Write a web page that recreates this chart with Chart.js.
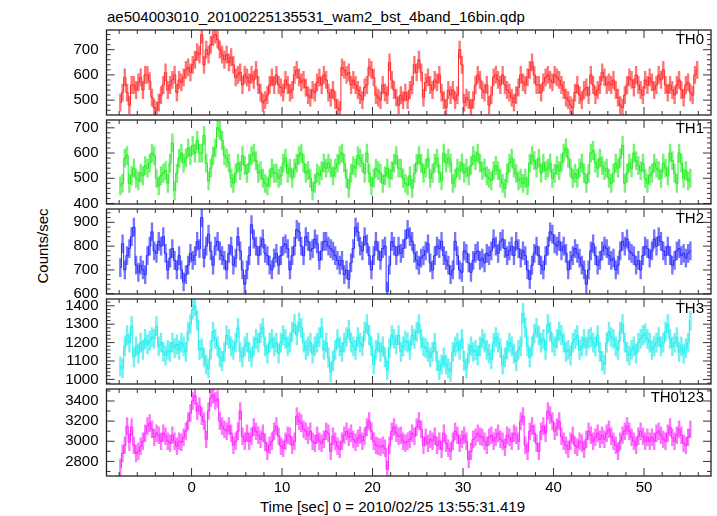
<!DOCTYPE html>
<html>
<head>
<meta charset="utf-8">
<script src="https://cdn.jsdelivr.net/npm/chart.js@4.4.1/dist/chart.umd.min.js"></script>
<style>
  body { margin: 0; background: #fff; }
  #wrap { position: relative; width: 717px; height: 516px; overflow: hidden;
          font-family: "Liberation Sans", Arial, sans-serif; font-size: 15px; color: #000; }
  canvas { position: absolute; left: 0; }
  .txt { position: absolute; line-height: 15px; white-space: nowrap; }
</style>
</head>
<body>
<div id="wrap">
  <div class="txt" style="left:107px; top:9px;">ae504003010_20100225135531_wam2_bst_4band_16bin.qdp</div>
  <div class="txt" style="left:42px; top:246px; transform: translate(-50%, -50%) rotate(-90deg);">Counts/sec</div>
  <div class="txt" style="left:260px; top:499px;">Time [sec] 0 = 2010/02/25 13:55:31.419</div>
</div>
<script>
// light curve values, 0.25 s bins starting at -7.875 s
const bandNames = ['TH0', 'TH1', 'TH2', 'TH3', 'TH0123'];

const th0 = [
  490, 530, 590, 530, 480, 560, 560, 540, 570, 590, 540, 600, 600, 575, 510, 470, 460, 490,
  520, 560, 610, 540, 560, 580, 600, 530, 580, 570, 590, 620, 630, 610, 640, 660, 690, 680,
  760, 640, 700, 680, 720, 750, 760, 740, 700, 680, 660, 680, 650, 670, 640, 590, 600, 610,
  560, 600, 590, 570, 600, 580, 620, 560, 530, 490, 500, 520, 560, 590, 560, 600, 560, 550,
  530, 580, 560, 530, 540, 600, 620, 590, 570, 580, 550, 520, 510, 540, 530, 570, 590, 560,
  600, 580, 530, 510, 540, 500, 470, 460, 630, 620, 600, 610, 560, 580, 560, 540, 520, 500,
  550, 560, 630, 620, 590, 520, 510, 500, 560, 530, 520, 650, 580, 540, 510, 480,
  520, 500, 530, 500, 540, 560, 640, 610, 660, 610, 510, 570, 590, 560, 540, 580, 570, 600,
  530, 500, 470, 540, 520, 540, 500, 520, 700, 640, 490, 510, 500, 470, 500, 560, 600, 580,
  540, 530, 560, 480, 520, 590, 600, 580, 560, 600, 560, 540, 530, 510, 490, 520, 550, 600,
  570, 560, 590, 620, 650, 600, 560, 560, 530, 570, 590, 600, 580, 570, 600, 590, 580, 560,
  540, 510, 500, 480, 470, 530, 560, 520, 500, 540, 550, 520, 600, 560, 520, 540, 560, 610,
  590, 560, 570, 560, 580, 540, 510, 480, 470, 520, 560, 590, 580, 550, 600, 560, 540, 520,
  580, 560, 590, 570, 540, 560, 600, 580, 620, 560, 530, 560, 540, 520, 560, 580, 540, 510,
  560, 570, 530, 520, 600, 620
];

const th1 = [
  470, 480, 580, 590, 480, 510, 540, 500, 490, 520, 510, 550, 540, 560, 600, 590, 500, 470,
  510, 520, 530, 480, 560, 640, 450, 520, 580, 600, 560, 580, 620, 590, 630, 600, 650, 600,
  600, 670, 560, 490, 540, 590, 620, 700, 690, 650, 590, 580, 560, 500, 480, 520, 560, 530,
  590, 550, 520, 560, 590, 600, 570, 520, 530, 500, 480, 470, 500, 540, 520, 520, 500, 510,
  560, 580, 520, 540, 500, 540, 560, 590, 600, 560, 520, 530, 500, 450, 480, 520, 510, 530,
  560, 540, 560, 540, 510, 540, 560, 590, 600, 560, 500, 460, 520, 550, 540, 590, 580, 560,
  520, 600, 520, 470, 500, 540, 530, 520, 480, 510, 540, 500, 530, 560, 590, 540,
  540, 500, 480, 470, 510, 460, 520, 560, 590, 560, 520, 540, 580, 500, 520, 560, 580, 520,
  490, 600, 560, 580, 560, 480, 500, 540, 530, 560, 520, 540, 510, 550, 590, 570, 600, 560,
  530, 540, 510, 500, 490, 530, 550, 530, 500, 480, 460, 520, 560, 580, 540, 520, 490, 500,
  480, 500, 470, 560, 590, 570, 540, 580, 520, 560, 530, 540, 560, 500, 520, 550, 530, 560,
  600, 620, 580, 540, 500, 520, 500, 540, 560, 520, 480, 520, 600, 610, 560, 540, 580, 550,
  530, 540, 500, 480, 520, 560, 540, 580, 630, 480, 520, 560, 540, 600, 570, 550, 530, 560,
  500, 480, 510, 520, 560, 540, 530, 500, 560, 540, 510, 600, 570, 520, 480, 600, 560, 500,
  530, 490, 500
];

const th2 = [
  710, 810, 700, 760, 790, 840, 880, 720, 690, 720, 700, 680, 760, 800, 860, 780, 770, 820,
  800, 840, 770, 700, 750, 790, 740, 700, 760, 700, 650, 680, 720, 770, 740, 760, 820, 790,
  920, 750, 800, 850, 780, 720, 800, 820, 780, 760, 740, 700, 770, 800, 720, 750, 840, 780,
  700, 640, 700, 760, 890, 830, 800, 760, 800, 830, 770, 760, 720, 700, 750, 770, 720, 760,
  800, 810, 790, 700, 760, 800, 870, 860, 800, 760, 840, 820, 780, 790, 830, 810, 740, 780,
  820, 820, 800, 790, 780, 760, 740, 720, 740, 680, 700, 660, 730, 790, 880, 860, 800, 780,
  840, 810, 760, 700, 760, 820, 780, 740, 790, 800, 610, 720, 820, 800, 760, 800,
  770, 790, 830, 870, 840, 820, 770, 740, 720, 750, 760, 780, 810, 730, 700, 760, 800, 790,
  820, 760, 740, 720, 680, 700, 820, 760, 700, 690, 780, 770, 730, 690, 740, 770, 780, 740,
  750, 730, 770, 760, 780, 830, 800, 770, 820, 830, 790, 760, 780, 800, 760, 820, 790, 750,
  780, 760, 700, 660, 720, 770, 800, 760, 720, 700, 760, 800, 860, 850, 810, 800, 820, 780,
  800, 770, 700, 740, 760, 790, 770, 750, 720, 700, 640, 700, 780, 810, 760, 720, 740, 780,
  800, 790, 760, 740, 750, 700, 720, 780, 820, 800, 830, 780, 770, 760, 720, 740, 700, 760,
  800, 790, 750, 780, 830, 800, 840, 820, 780, 760, 800, 760, 720, 740, 780, 790, 760, 770,
  750, 770, 780
];

const th3 = [
  1070, 1060, 1180, 1240, 1200, 1290, 1120, 1180, 1140, 1200, 1160, 1220, 1190, 1210, 1230,
  1220, 1290, 1180, 1200, 1150, 1130, 1160, 1150, 1200, 1170, 1190, 1160, 1200, 1180, 1150,
  1260, 1300, 1380, 1400, 1320, 1160, 1170, 1120, 1080, 1060, 1160, 1260, 1220, 1180, 1120,
  1100, 1150, 1240, 1220, 1180, 1160, 1200, 1280, 1150, 1120, 1180, 1200, 1150, 1120, 1180,
  1220, 1200, 1250, 1280, 1180, 1140, 1200, 1220, 1180, 1200, 1140, 1200, 1240, 1220, 1180,
  1200, 1260, 1300, 1240, 1310, 1280, 1200, 1160, 1180, 1200, 1140, 1180, 1200, 1230, 1280,
  1160, 1200, 1120, 1040, 1100, 1160, 1220, 1180, 1150, 1200, 1230, 1270, 1200, 1180, 1160,
  1230, 1200, 1180, 1260, 1300, 1240, 1180, 1080, 1160, 1200, 1150, 1180, 1120, 1050, 1170,
  1240, 1220, 1190, 1240,
  1150, 1180, 1210, 1200, 1160, 1240, 1220, 1260, 1300, 1220, 1180, 1170, 1150, 1120, 1150,
  1200, 1100, 1050, 1080, 1120, 1080, 1060, 1040, 1150, 1180, 1200, 1160, 1220, 1100, 1060,
  1140, 1180, 1150, 1160, 1130, 1180, 1220, 1200, 1160, 1140, 1110, 1200, 1230, 1200, 1170,
  1080, 1120, 1160, 1200, 1180, 1140, 1100, 1160, 1180, 1360, 1280, 1180, 1120, 1180, 1250,
  1280, 1240, 1200, 1220, 1160, 1300, 1260, 1200, 1180, 1220, 1260, 1240, 1200, 1150, 1160,
  1130, 1200, 1220, 1240, 1160, 1180, 1220, 1180, 1220, 1230, 1200, 1180, 1240, 1150, 1100,
  1080, 1200, 1260, 1230, 1220, 1180, 1160, 1260, 1300, 1200, 1150, 1130, 1160, 1180, 1140,
  1200, 1220, 1240, 1250, 1220, 1200, 1160, 1180, 1200, 1230, 1180, 1200, 1260, 1300, 1220,
  1180, 1200, 1230, 1150, 1180, 1140, 1170, 1200, 1320
];

const th0123 = [
  2740, 2880, 2960, 3150, 2990, 3140, 2960, 2880, 2900, 2950, 3000, 3080, 3150, 3180, 3120,
  3040, 3080, 3060, 3000, 3080, 3050, 3000, 2980, 3060, 3000, 2950, 3000, 2990, 3040, 3100,
  3200, 3280, 3400, 3450, 3300, 3350, 3250, 3200, 3020, 3300, 3430, 3460, 3400, 3420, 3200,
  3150, 3120, 3100, 3150, 3080, 2960, 3000, 3100, 3300, 3050, 3000, 3080, 3000, 3050, 3140,
  3100, 3060, 3020, 3080, 2990, 2900, 2960, 3000, 3100, 3150, 3050, 2950, 2930, 3000, 3060,
  3050, 2960, 3000, 3250, 3200, 3180, 3120, 3100, 3060, 3100, 3000, 2980, 3060, 3000, 2980,
  3020, 3100, 3080, 2900, 3050, 3000, 2950, 2920, 3000, 3060, 3100, 3040, 3080, 3020, 2990,
  3030, 3060, 3000, 3050, 3140, 3200, 3100, 3000, 2960, 2950, 2940, 2960, 2930, 2720, 2960,
  3100, 3140, 3080, 3050,
  3060, 3000, 2980, 3000, 3020, 3080, 3050, 3140, 3200, 3120, 2960, 3040, 2980, 3020, 3000,
  3050, 2960, 3000, 2920, 3080, 2980, 2930, 2900, 3000, 3100, 3060, 2980, 3020, 3060, 3000,
  2820, 2900, 3020, 3040, 3080, 3050, 3040, 3000, 2960, 3040, 3060, 3000, 3040, 3080, 3020,
  3000, 2940, 3060, 3040, 3000, 3080, 3060, 3000, 3200, 3250, 2960, 2900, 3100, 3150, 3080,
  2980, 2900, 3100, 3150, 3080, 3300, 3260, 3200, 3100, 3140, 3200, 3050, 3000, 2960, 2920,
  3000, 3060, 2960, 2940, 3000, 2980, 2920, 3020, 3100, 3060, 3000, 3040, 3080, 3020, 3060,
  3020, 3080, 3120, 3050, 3000, 2960, 2900, 3000, 3060, 3100, 3150, 3100, 3040, 3000, 2960,
  3050, 3100, 3050, 3000, 3040, 3000, 3040, 3000, 3080, 3100, 3060, 3020, 3000, 3080, 3140,
  3040, 3000, 3060, 3120, 3060, 2980, 2960, 3040, 3120
];

const bandValues = [th0, th1, th2, th3, th0123];
const bandErr = [34, 36, 38, 52, 84];          // typical 1-sigma error per band
const yMins = [441, 398, 599, 975, 2655];
const yMaxs = [778, 731, 956, 1437, 3519];
const yTickLabels = [
  [500, 600, 700],
  [400, 500, 600, 700],
  [600, 700, 800, 900],
  [1000, 1100, 1200, 1300, 1400],
  [2800, 3000, 3200, 3400]
];
const yMinorStep = [20, 20, 20, 20, 100];
const xTickLabels = [0, 10, 20, 30, 40, 50];
const tStart = -7.875, binSec = 0.25;
const xMin = -9.4, xMax = 57.4;

// styles
const lineColors = ['#ff2a2a', '#22ee22', '#2a2aff', '#22eeee', '#ff22ff'];
const barColors = ['rgba(255,50,50,0.68)', 'rgba(40,235,40,0.65)', 'rgba(50,50,255,0.68)',
                   'rgba(40,235,235,0.68)', 'rgba(255,50,255,0.68)'];
const panelTop = 27.5, panelH = 89.7;
const plotLeft = 106.5, plotRight = 711;
const W = 717, H = 516, margin = 14;

Chart.defaults.font.family = "'Liberation Sans', Arial, sans-serif";
Chart.defaults.font.size = 15;
Chart.defaults.color = '#000';

// frame with inward ticks on all four sides, like qdp
const framePlugin = {
  id: 'qdpFrame',
  afterDatasetsDraw(chart, args, opts) {
    const {ctx, chartArea: a, scales} = chart;
    const xs = scales.x, ys = scales.y;
    ctx.save();
    ctx.strokeStyle = '#333';
    ctx.lineWidth = 1;
    ctx.beginPath();
    for (let v = Math.ceil(xMin / 2) * 2; v <= xMax; v += 2) {
      const px = xs.getPixelForValue(v);
      const len = (v % 10 === 0) ? 8 : 4;
      ctx.moveTo(px, a.top); ctx.lineTo(px, a.top + len);
      ctx.moveTo(px, a.bottom); ctx.lineTo(px, a.bottom - len);
    }
    const step = opts.minor;
    for (let v = Math.ceil(ys.min / step) * step; v <= ys.max; v += step) {
      const py = ys.getPixelForValue(v);
      const len = opts.major.includes(v) ? 8 : 4;
      ctx.moveTo(a.left, py); ctx.lineTo(a.left + len, py);
      ctx.moveTo(a.right, py); ctx.lineTo(a.right - len, py);
    }
    ctx.stroke();
    ctx.strokeStyle = '#222';
    ctx.lineWidth = 1.3;
    ctx.strokeRect(a.left, a.top, a.right - a.left, a.bottom - a.top);
    ctx.restore();
  }
};

const wrap = document.getElementById('wrap');

bandValues.forEach((vals, i) => {
  const top = panelTop + i * panelH;
  const bottom = top + panelH;
  const last = i === bandValues.length - 1;
  const cTop = Math.floor(top) - margin;
  const cBottom = last ? H : Math.ceil(bottom) + margin;

  const canvas = document.createElement('canvas');
  canvas.width = W;
  canvas.height = cBottom - cTop;
  canvas.style.top = cTop + 'px';
  canvas.style.width = W + 'px';
  canvas.style.height = (cBottom - cTop) + 'px';
  wrap.appendChild(canvas);

  const label = document.createElement('div');
  label.className = 'txt';
  label.style.right = '13px';
  label.style.top = (top + 3) + 'px';
  label.textContent = bandNames[i];
  wrap.appendChild(label);

  const err = bandErr[i];
  const points = vals.map((v, k) => ({x: tStart + k * binSec, y: v}));
  const errBars = vals.map((v, k) => ({x: tStart + k * binSec, y: [v - err, v + err]}));

  new Chart(canvas, {
    type: 'line',
    data: {
      datasets: [
        {
          type: 'bar',
          data: errBars,
          backgroundColor: barColors[i],
          borderWidth: 0,
          barThickness: 1.7,
          grouped: false,
          clip: 0,
          order: 2
        },
        {
          type: 'line',
          data: points,
          borderColor: lineColors[i],
          borderWidth: 1,
          stepped: 'middle',
          pointRadius: 0,
          fill: false,
          clip: 0,
          order: 1
        }
      ]
    },
    options: {
      responsive: false,
      animation: false,
      events: [],
      layout: {
        padding: {
          left: 0,
          right: W - plotRight,
          top: top - cTop,
          bottom: last ? 0 : cBottom - bottom
        }
      },
      plugins: {
        legend: { display: false },
        tooltip: { enabled: false },
        qdpFrame: { major: yTickLabels[i], minor: yMinorStep[i] }
      },
      scales: {
        x: {
          type: 'linear',
          min: xMin,
          max: xMax,
          offset: false,
          display: last,
          grid: { display: false, drawTicks: false },
          border: { display: false },
          ticks: { padding: 3, maxRotation: 0, autoSkip: false, callback: v => String(v) },
          afterBuildTicks: s => { s.ticks = xTickLabels.map(v => ({value: v})); },
          afterFit: s => { s.height = last ? H - bottom : 0; }
        },
        y: {
          type: 'linear',
          min: yMins[i],
          max: yMaxs[i],
          beginAtZero: false,
          grid: { display: false, drawTicks: false },
          border: { display: false },
          ticks: { padding: 8, autoSkip: false, callback: v => String(v) },
          afterBuildTicks: s => { s.ticks = yTickLabels[i].map(v => ({value: v})); },
          afterFit: s => { s.width = plotLeft; }
        }
      }
    },
    plugins: [framePlugin]
  });
});
</script>
</body>
</html>
